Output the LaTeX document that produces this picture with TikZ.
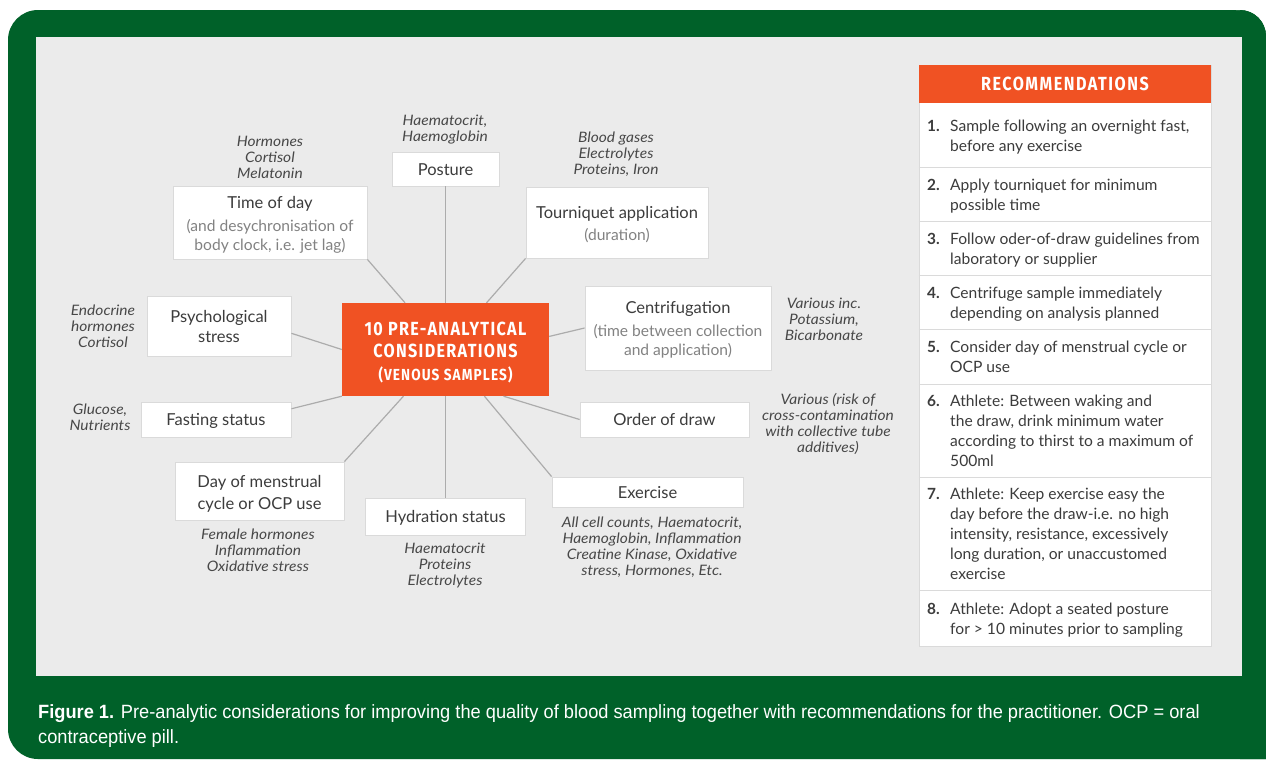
\documentclass[tikz,border=0pt]{standalone}
\usepackage{fontspec}
\setmainfont{Lato}
\newfontfamily\annfont[FakeStretch=1.08]{Lato}
\newfontfamily\headfont[FakeStretch=0.85]{Fira Sans}
\newfontfamily\capfont[FakeStretch=0.95]{Liberation Sans}
\usetikzlibrary{calc}
\definecolor{frameGreen}{RGB}{0,97,41}
\definecolor{panelGray}{RGB}{235,235,235}
\definecolor{boxBorder}{RGB}{218,218,218}
\definecolor{lineGray}{RGB}{172,172,172}
\definecolor{orangeC}{RGB}{240,82,35}
\definecolor{txt}{RGB}{60,60,60}
\definecolor{subTxt}{RGB}{130,130,130}
\definecolor{annTxt}{RGB}{72,72,72}
\newcommand{\mainlbl}[1]{{\fontsize{16.5}{19}\selectfont\color{txt}\rule{0pt}{16pt}#1}}
\newcommand{\reclbl}[3]{%
  \node[recnum] (n#1) at (927,#2) {#1.};
  \node[rectxt] (r#1) at (950,#2) {\parbox[t]{258pt}{\raggedright #3}};}
\begin{document}
\begin{tikzpicture}[x=1pt,y=-1pt,
  box/.style={draw=boxBorder, line width=0.8pt, fill=white, inner sep=0pt, align=center,
    text=txt, font=\fontsize{16.5}{19}\selectfont},
  onebox/.style={box, text height=12pt, text depth=0pt},
  subbox/.style={box, text=subTxt, font=\fontsize{15.6}{19}\selectfont},
  ann/.style={font=\annfont\itshape\fontsize{14.4}{16}\selectfont, text=annTxt, align=center, inner sep=0pt},
  link/.style={draw=lineGray, line width=1.2pt},
  recnum/.style={anchor=base west, inner sep=0pt, font=\fontsize{15.4}{20}\selectfont\bfseries, text=txt},
  rectxt/.style={anchor=base west, inner sep=0pt, font=\fontsize{15.6}{20}\selectfont, text=txt},
  sep/.style={draw=boxBorder, line width=0.9pt}]
\useasboundingbox (0,0) rectangle (1266,761);
\fill[white] (0,0) rectangle (1266,761);
\fill[frameGreen, rounded corners=30pt] (8,10) rectangle (1296,759);
\fill[white] (1236,10) -- (1266,10) -- (1266,36) arc[start angle=0, end angle=90, radius=26pt]
  -- cycle;
\fill[frameGreen] (1240,10) arc[start angle=90, end angle=0, radius=26pt] -- (1266,759) -- (1240,759) -- cycle;
\fill[panelGray] (36,37) rectangle (1242,676);

% central node
\node[fill=orangeC, minimum width=207pt, minimum height=93pt, inner sep=0pt, align=center,
  text=white, font=\headfont\bfseries\fontsize{19}{22}\selectfont\addfontfeature{LetterSpace=7}] (c) at (445.5,349.5)
  {\rule{0pt}{20pt}10 PRE-ANALYTICAL\\CONSIDERATIONS\\[1pt]{\fontsize{16}{22}\selectfont (VENOUS SAMPLES)}};

% consideration boxes
\node[subbox, minimum width=194pt, minimum height=73pt] (tod) at (270,222.5)
  {\mainlbl{Time of day}\\[4pt](and desychronisation of\\body clock, i.e. jet lag)};
\node[onebox, minimum width=107pt, minimum height=34pt] (pos) at (445.5,169) {Posture};
\node[subbox, minimum width=182pt, minimum height=71pt] (tour) at (617,222.5)
  {\mainlbl{Tourniquet application}\\[3pt](duration)};
\node[subbox, minimum width=186pt, minimum height=84pt] (cen) at (678,328)
  {\mainlbl{Centrifugation}\\[4pt](time between collection\\and application)};
\node[box, minimum width=144pt, minimum height=60pt, font=\fontsize{16.5}{20}\selectfont] (psy) at (219,326)
  {\rule{0pt}{14pt}Psychological\\stress};
\node[onebox, minimum width=150pt, minimum height=35pt] (fast) at (216,419.5) {Fasting status};
\node[box, minimum width=169pt, minimum height=58pt, font=\fontsize{16.5}{22}\selectfont] (men) at (259.5,491)
  {\rule{0pt}{17pt}Day of menstrual\\cycle or OCP use};
\node[onebox, minimum width=160pt, minimum height=37pt] (hyd) at (445.5,516.5) {Hydration status};
\node[onebox, minimum width=169pt, minimum height=35pt] (ord) at (664.5,419.5) {Order of draw};
\node[onebox, minimum width=191pt, minimum height=30pt] (ex) at (647.5,492) {Exercise};

% annotations
\node[ann] (a1) at (270,157) {Hormones\\Cortisol\\Melatonin};
\node[ann] (a2) at (445,130) {Haematocrit,\\Haemoglobin};
\node[ann] (a3) at (616,154.5) {Blood gases\\Electrolytes\\Proteins, Iron};
\node[ann] (a4) at (824,319.5) {Various inc.\\Potassium,\\Bicarbonate};
\node[ann] (a5) at (103,326) {Endocrine\\hormones\\Cortisol};
\node[ann] (a6) at (100,417) {Glucose,\\Nutrients};
\node[ann] (a7) at (828,424) {Various (risk of\\cross-contamination\\with collective tube\\additives)};
\node[ann] (a8) at (258,550.5) {Female hormones\\Inflammation\\Oxidative stress};
\node[ann] (a9) at (445,565) {Haematocrit\\Proteins\\Electrolytes};
\node[ann] (a10) at (652,547) {All cell counts, Haematocrit,\\Haemoglobin, Inflammation\\Creatine Kinase, Oxidative\\stress, Hormones, Etc.};

% connectors
\draw[link] (tod.south east) -- (c);
\draw[link] (pos) -- (c);
\draw[link] (tour.south west) -- (c);
\draw[link] (cen.west) -- ($(c.north east)!0.36!(c.south east)$);
\draw[link] ($(psy.north east)!0.62!(psy.south east)$) -- (c.west);
\draw[link] ($(fast.north east)!0.2!(fast.south east)$) -- (c.south west);
\draw[link] (men.north east) -- (c);
\draw[link] (hyd.north) -- (hyd.north |- c.south);
\draw[link] (ex.north west) -- (c);
\draw[link] (ord.west) -- ($(c.south west)!0.78!(c.south east)$);

% recommendations panel
\node[draw=boxBorder, line width=0.9pt, fill=white, minimum width=292pt, minimum height=581pt,
  inner sep=0pt] (rec) at (1065,355.5) {};
\node[fill=orangeC, minimum width=292pt, minimum height=38pt, inner sep=0pt, text=white,
  font=\headfont\bfseries\fontsize{19}{22}\selectfont\addfontfeature{LetterSpace=8}] (rh) at (1065,84) {RECOMMENDATIONS};
\foreach \yy in {167,221,275,329,384,477,590}
  \draw[sep] (rec.west |- 0,\yy) -- (rec.east |- 0,\yy);
\reclbl{1}{131.5}{Sample following an overnight fast,\\before any exercise}
\reclbl{2}{190.5}{Apply tourniquet for minimum\\possible time}
\reclbl{3}{244.5}{Follow oder-of-draw guidelines from\\laboratory or supplier}
\reclbl{4}{298.5}{Centrifuge sample immediately\\depending on analysis planned}
\reclbl{5}{352.5}{Consider day of menstrual cycle or\\OCP use}
\reclbl{6}{406.5}{Athlete: Between waking and\\the draw, drink minimum water\\according to thirst to a maximum of\\500ml}
\reclbl{7}{499.5}{Athlete: Keep exercise easy the\\day before the draw-i.e. no high\\intensity, resistance, excessively\\long duration, or unaccustomed\\exercise}
\reclbl{8}{614.5}{Athlete: Adopt a seated posture\\for > 10 minutes prior to sampling}

% caption
\node[anchor=base west, inner sep=0pt, text=white, font=\capfont\fontsize{19.2}{25}\selectfont] (cap) at (38,718)
  {\parbox[t]{1200pt}{\raggedright\textbf{Figure 1.} Pre-analytic considerations for improving the quality of blood sampling together with recommendations for the practitioner. OCP = oral\\contraceptive pill.}};
\end{tikzpicture}
\end{document}
